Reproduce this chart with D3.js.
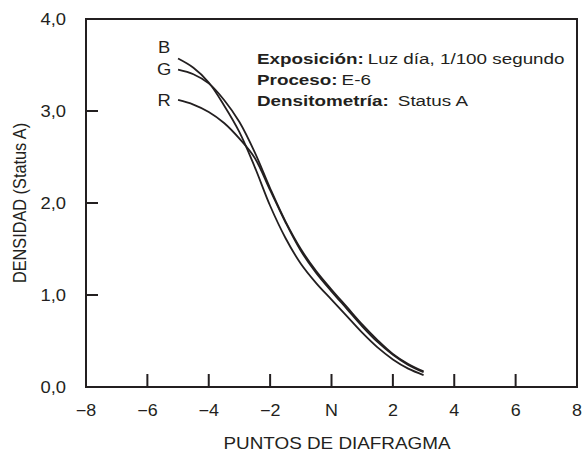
<!DOCTYPE html>
<html>
<head>
<meta charset="utf-8">
<script src="https://d3js.org/d3.v7.min.js"></script>
<style>
  body { margin: 0; background: #fff; }
  text { font-family: "Liberation Sans", Arial, sans-serif; fill: #231f20; }
</style>
</head>
<body>
<div id="chart"></div>
<script>

// curve data (x = puntos de diafragma, y = densidad)
var xVals = [-5, -4.5, -4, -3.5, -3, -2.5, -2, -1.5, -1, -0.5, 0, 0.5, 1, 1.5, 2, 2.5, 3]
var yB = [3.57, 3.47, 3.31, 3.06, 2.77, 2.39, 1.97, 1.62, 1.34, 1.13, 0.95, 0.77, 0.59, 0.43, 0.30, 0.20, 0.13]
var yG = [3.45, 3.40, 3.30, 3.12, 2.88, 2.55, 2.16, 1.80, 1.50, 1.26, 1.06, 0.87, 0.68, 0.51, 0.36, 0.25, 0.17]
var yR = [3.12, 3.07, 2.99, 2.87, 2.70, 2.49, 2.14, 1.79, 1.48, 1.24, 1.04, 0.85, 0.66, 0.49, 0.35, 0.24, 0.16]
var seriesNames = ["B", "G", "R"]

var xTicks = [-8, -6, -4, -2, 0, 2, 4, 6, 8]
var xTickLabels = ["\u22128", "\u22126", "\u22124", "\u22122", "N", "2", "4", "6", "8"]
var yTicks = [0, 1, 2, 3, 4]
var yTickLabels = ["0,0", "1,0", "2,0", "3,0", "4,0"]

var notes = [
  ["Exposición:", "Luz día, 1/100 segundo"],
  ["Proceso:", "E-6"],
  ["Densitometría:", "Status A"]
]

var width = 583
var height = 452
var margin = {top: 19, right: 6, bottom: 65, left: 86}

var svg = d3.select("#chart")
  .append("svg")
    .attr("width", width)
    .attr("height", height)

var x = d3.scaleLinear()
  .domain([-8, 8])
  .range([margin.left, width - margin.right])

var y = d3.scaleLinear()
  .domain([0, 4])
  .range([height - margin.bottom, margin.top])

var ink = "#231f20"

// the original artwork is a little wider than tall, so text gets a horizontal stretch
function label(g, px, py, str, size, sx, anchor) {
  return g.append("text")
    .attr("transform", "translate(" + px + "," + py + ") scale(" + sx + ",1)")
    .attr("text-anchor", anchor)
    .style("font-size", size + "px")
    .text(str)
}

// frame
svg.append("rect")
  .attr("x", x(-8))
  .attr("y", y(4))
  .attr("width", x(8) - x(-8))
  .attr("height", y(0) - y(4))
  .attr("fill", "none")
  .attr("stroke", ink)
  .attr("stroke-width", 2)

// inner ticks
svg.append("g")
  .selectAll("line")
  .data(xTicks.slice(1, -1))
  .enter()
  .append("line")
    .attr("x1", function(d){ return x(d) })
    .attr("x2", function(d){ return x(d) })
    .attr("y1", y(0))
    .attr("y2", y(0) - 13)
    .attr("stroke", ink)
    .attr("stroke-width", 2)

svg.append("g")
  .selectAll("line")
  .data(yTicks.slice(1, -1))
  .enter()
  .append("line")
    .attr("x1", x(-8))
    .attr("x2", x(-8) + 12)
    .attr("y1", function(d){ return y(d) })
    .attr("y2", function(d){ return y(d) })
    .attr("stroke", ink)
    .attr("stroke-width", 2)

// tick labels
var xl = svg.append("g")
xTicks.forEach(function(d, i) {
  label(xl, x(d), y(0) + 29, xTickLabels[i], 16, 1.12, "middle")
})

var yl = svg.append("g")
yTicks.forEach(function(d, i) {
  label(yl, x(-8) - 20, y(d) + 5.7, yTickLabels[i], 16, 1.15, "end")
})

// axis titles
label(svg, 337, 449, "PUNTOS DE DIAFRAGMA", 16, 1.18, "middle")

svg.append("text")
  .attr("transform", "translate(26," + y(2) + ") rotate(-90) scale(1,1.14)")
  .attr("text-anchor", "middle")
  .style("font-size", "16.3px")
  .text("DENSIDAD (Status A)")

// curves
var line = d3.line()
  .x(function(d){ return x(d[0]) })
  .y(function(d){ return y(d[1]) })
  .curve(d3.curveCatmullRom)

var labelBase = [52.7, 74.5, 106]
var allY = [yB, yG, yR]
allY.forEach(function(ys, k) {
  var pts = xVals.map(function(v, i){ return [v, ys[i]] })
  svg.append("path")
    .datum(pts)
    .attr("d", line)
    .attr("fill", "none")
    .attr("stroke", ink)
    .attr("stroke-width", 1.8)

  label(svg, x(xVals[0]) - 14, labelBase[k], seriesNames[k], 16, 1.15, "middle")
})

// annotation
var note = svg.append("g")
var noteGap = [4, 4, 9]
notes.forEach(function(n, i) {
  var t = note.append("text")
    .attr("transform", "translate(257," + (64.3 + i * 21) + ") scale(1.3,1)")
    .style("font-size", "14.5px")
  t.append("tspan").style("font-weight", "bold").text(n[0])
  t.append("tspan").attr("dx", noteGap[i] / 1.3).text(n[1])
})

</script>
</body>
</html>
